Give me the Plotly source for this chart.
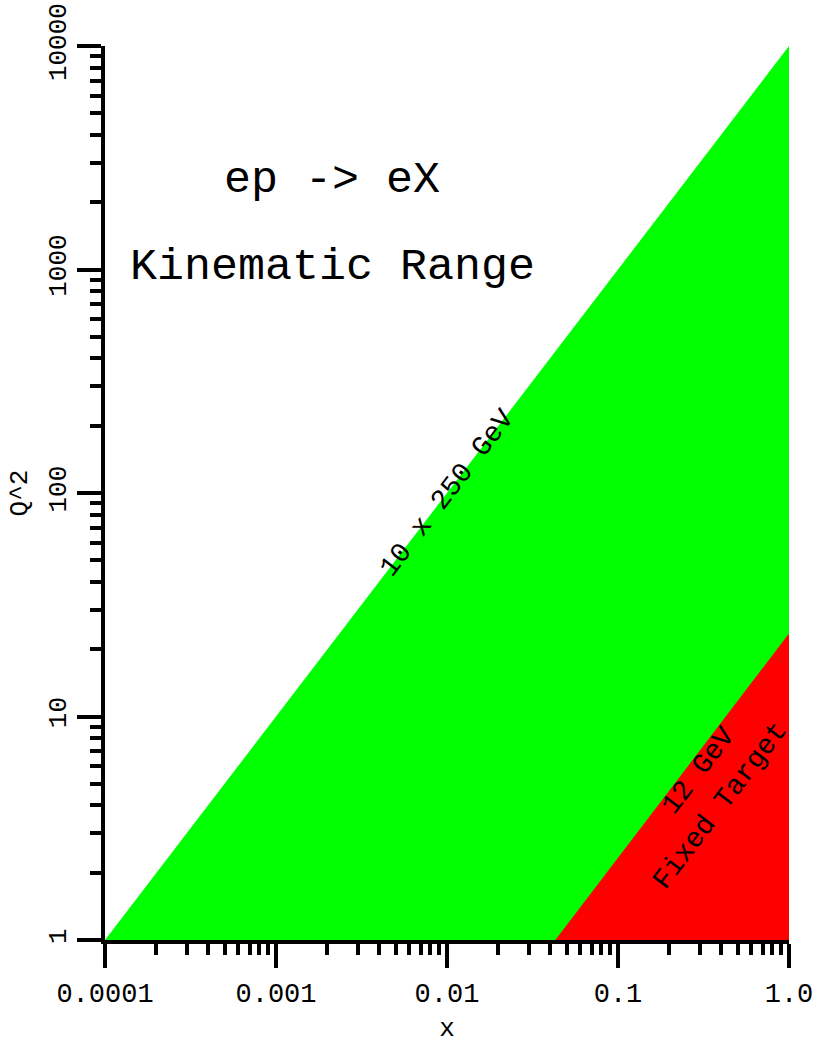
import math
import plotly.graph_objects as go

# ---- data ----
x_collider = [1e-4, 1.0, 1.0]          # 10 x 250 GeV ep region
q2_collider = [1.0, 10000.0, 1.0]
x_fixed = [0.043, 1.0, 1.0]            # 12 GeV fixed target region
q2_fixed = [1.0, 23.5, 1.0]

x_tickvals = [1e-4, 1e-3, 1e-2, 1e-1, 1.0]
x_ticktext = ["0.0001", "0.001", "0.01", "0.1", "1.0"]
y_tickvals = [1, 10, 100, 1000, 10000]
y_ticktext = ["1", "10", "100", "1000", "10000"]

W, H = 815, 1044
ML, MR, MT, MB = 105, 26, 46, 104
FONT = "Courier New, Courier, Nimbus Mono PS, FreeMono, Liberation Mono, monospace"

minor_x = [m * 10.0 ** k for k in range(-4, 0) for m in range(2, 10)]
minor_y = [m * 10.0 ** k for k in range(0, 4) for m in range(2, 10)]

fig = go.Figure()
fig.add_trace(go.Scatter(x=x_collider, y=q2_collider, fill="toself",
                         fillcolor="#00ff00", mode="lines",
                         line=dict(width=0, color="#00ff00"),
                         hoverinfo="skip", showlegend=False))
fig.add_trace(go.Scatter(x=x_fixed, y=q2_fixed, fill="toself",
                         fillcolor="#ff0000", mode="lines",
                         line=dict(width=0, color="#ff0000"),
                         hoverinfo="skip", showlegend=False))

# angle of the boundary lines in pixel space
pw, ph = W - ML - MR, H - MT - MB
ang = -math.degrees(math.atan2(ph / 4.0, pw / 4.0))

fig.update_layout(
    width=W, height=H,
    margin=dict(l=ML, r=MR, t=MT, b=MB, pad=0),
    paper_bgcolor="white", plot_bgcolor="white",
    font=dict(family=FONT, size=26, color="black"),
    showlegend=False,
    xaxis=dict(type="log", range=[-4, 0], tickvals=x_tickvals, ticktext=x_ticktext,
               automargin=False, ticklabeloverflow="allow",
               ticks="outside", ticklen=24, tickwidth=4, tickcolor="black",
               showline=True, linewidth=4, linecolor="black",
               showgrid=False, zeroline=False, ticklabelstandoff=2,
               tickfont=dict(family=FONT, size=27),
               minor=dict(tickvals=minor_x, ticks="outside", ticklen=11,
                          tickwidth=4, tickcolor="black", showgrid=False),
               title=dict(text="x", font=dict(family=FONT, size=26), standoff=40)),
    yaxis=dict(type="log", range=[0, 4], tickvals=y_tickvals, ticktext=y_ticktext,
               automargin=False, ticklabeloverflow="allow",
               ticks="outside", ticklen=24, tickwidth=4, tickcolor="black",
               showline=True, linewidth=4, linecolor="black",
               showgrid=False, zeroline=False, tickangle=-90, ticklabelstandoff=1,
               tickfont=dict(family=FONT, size=26),
               minor=dict(tickvals=minor_y, ticks="outside", ticklen=11,
                          tickwidth=4, tickcolor="black", showgrid=False),
               title=dict(text="Q^2", font=dict(family=FONT, size=26), standoff=9)),
)

fig.add_annotation(text="ep -> eX", xref="paper", yref="paper", x=0.332, y=0.850,
                   xanchor="center", yanchor="middle",
                   showarrow=False, font=dict(family=FONT, size=45))
fig.add_annotation(text="Kinematic Range", xref="paper", yref="paper", x=0.332, y=0.752,
                   xanchor="center", yanchor="middle",
                   showarrow=False, font=dict(family=FONT, size=45))
fig.add_annotation(text="10 x 250 GeV", x=-2, y=2, xref="x", yref="y",
                   xanchor="center", yanchor="middle",
                   showarrow=False, textangle=ang, font=dict(family=FONT, size=28))
fig.add_annotation(text="12 GeV", x=-0.532, y=0.756,
                   xref="x", yref="y", xanchor="center", yanchor="middle",
                   showarrow=False, textangle=ang,
                   font=dict(family=FONT, size=28))
fig.add_annotation(text="Fixed Target", x=-0.398, y=0.600,
                   xref="x", yref="y", xanchor="center", yanchor="middle",
                   showarrow=False, textangle=ang,
                   font=dict(family=FONT, size=28))

# remove the browser's default 8px body margin so the figure fills the window
fig.write_html("out.html",
               config={"displayModeBar": False},
               post_script="document.body.style.margin='0';"
                           "document.documentElement.style.overflow='hidden';")
